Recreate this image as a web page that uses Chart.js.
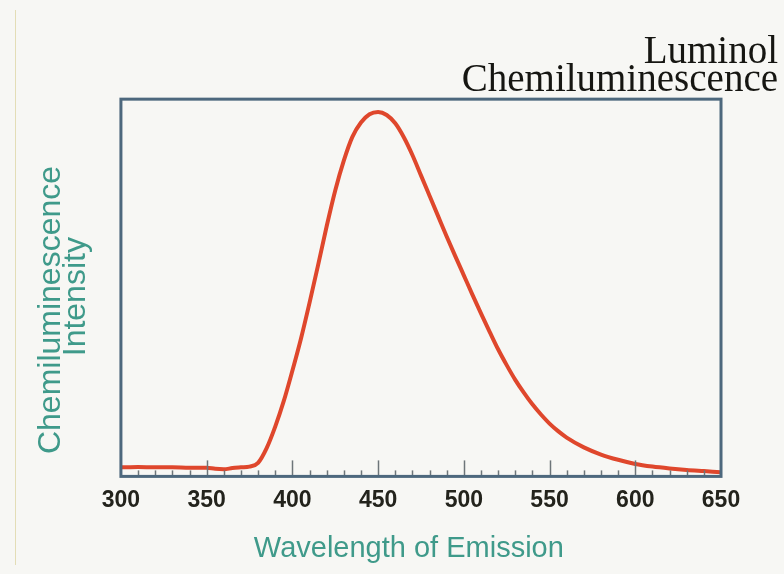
<!DOCTYPE html>
<html>
<head>
<meta charset="utf-8">
<script src="https://cdn.jsdelivr.net/npm/chart.js@4.4.1/dist/chart.umd.min.js"></script>
<style>
  html, body { margin: 0; padding: 0; background: #f7f7f4; }
  #wrap { position: relative; width: 784px; height: 574px; }
  #edge { position: absolute; left: 15px; top: 10px; height: 555px; border-left: 1px solid #e3ddb6; }
</style>
</head>
<body>
<div id="wrap">
  <div id="edge"></div>
  <canvas id="stage" width="784" height="574"></canvas>
</div>
<script>
// emission spectrum (intensity in % of the frame height)
const wavelengthNm = [300, 310, 320, 330, 340, 350, 355, 360, 365, 370, 375, 380, 385, 390, 395,
  400, 405, 410, 415, 420, 425, 430, 435, 440, 445, 450, 455, 460, 465, 470, 475, 480, 485, 490, 495,
  500, 505, 510, 515, 520, 525, 530, 535, 540, 545, 550, 555, 560, 570, 580, 590, 600, 610, 620, 630, 640, 650];
const intensity = [2.4, 2.5, 2.4, 2.4, 2.3, 2.3, 2.0, 1.9, 2.2, 2.4, 2.6, 3.6, 7.5, 13.2, 20,
  28, 36.5, 46, 56, 66.3, 75.8, 83.7, 90, 93.8, 96, 96.6, 95.8, 93.6, 89.9, 85.2, 79.8, 74.4, 69, 63.6, 58.4,
  53.3, 48.2, 43.2, 38.4, 33.7, 29.5, 25.6, 22.2, 19.1, 16.4, 14, 12, 10.3, 7.7, 5.8, 4.4, 3.3, 2.6, 2.1, 1.7, 1.4, 1.1];

const xTickValues = [300, 350, 400, 450, 500, 550, 600, 650];
const chartTitle = ['Luminol', 'Chemiluminescence'];
// trailing spaces nudge the axis titles off-centre, as in the original
const xTitle = 'Wavelength of Emission   ';
const yTitle = ['Chemiluminescence     ', 'Intensity  '];

const sans = '"Liberation Sans", Arial, sans-serif';
const titleGreen = '#3f9a8a';

// frame round the plot + small ticks pointing inward from the bottom edge
const frameAndTicks = {
  id: 'frameAndTicks',
  afterDatasetsDraw(chart) {
    const ctx = chart.ctx;
    const a = chart.chartArea;
    const xs = chart.scales.x;
    ctx.save();
    ctx.strokeStyle = '#6d7579';
    ctx.lineWidth = 1.5;
    for (let v = 310; v < 650; v += 10) {
      const px = Math.round(xs.getPixelForValue(v)) + 0.5;
      const len = xTickValues.includes(v) ? 16 : 6;
      ctx.beginPath();
      ctx.moveTo(px, a.bottom);
      ctx.lineTo(px, a.bottom - len);
      ctx.stroke();
    }
    ctx.strokeStyle = '#4d687d';
    ctx.lineWidth = 3;
    ctx.strokeRect(a.left, a.top, a.right - a.left, a.bottom - a.top);
    ctx.restore();
  }
};

const points = wavelengthNm.map((w, i) => ({ x: w, y: intensity[i] }));

new Chart(document.getElementById('stage'), {
  type: 'line',
  data: {
    datasets: [{
      data: points,
      borderColor: '#df472c',
      borderWidth: 4,
      pointRadius: 0,
      tension: 0.4,
      cubicInterpolationMode: 'monotone',
      fill: false
    }]
  },
  options: {
    responsive: false,
    animation: false,
    layout: { padding: { left: 10, right: 6, top: 0, bottom: 6 } },
    plugins: {
      legend: { display: false },
      tooltip: { enabled: false },
      title: {
        display: true,
        text: chartTitle,
        align: 'end',
        color: '#161612',
        font: { family: '"Liberation Serif", "Times New Roman", serif', size: 39, weight: 'normal', lineHeight: 0.72 },
        padding: { top: 39, bottom: 4 }
      }
    },
    scales: {
      x: {
        type: 'linear',
        min: 300,
        max: 650,
        afterBuildTicks: (s) => { s.ticks = xTickValues.map(v => ({ value: v })); },
        grid: { display: false, drawTicks: false },
        border: { display: false },
        ticks: {
          padding: 10,
          maxRotation: 0,
          autoSkip: false,
          color: '#23231c',
          font: { family: sans, size: 23, weight: 'bold', lineHeight: 1.2 }
        },
        title: {
          display: true,
          text: xTitle,
          color: titleGreen,
          font: { family: sans, size: 29, lineHeight: 1 },
          padding: { top: 10, bottom: 5 }
        }
      },
      y: {
        min: 0,
        max: 100,
        grid: { display: false, drawTicks: false },
        border: { display: false },
        ticks: { display: false },
        title: {
          display: true,
          text: yTitle,
          color: titleGreen,
          font: { family: sans, size: 32, lineHeight: 0.78 },
          padding: { top: 29, bottom: 32 }
        }
      },
      y2: {
        position: 'right',
        min: 0,
        max: 100,
        grid: { display: false, drawTicks: false },
        border: { display: false },
        ticks: { display: false },
        afterFit: (s) => { s.width = 57; }
      }
    }
  },
  plugins: [frameAndTicks]
});
</script>
</body>
</html>
